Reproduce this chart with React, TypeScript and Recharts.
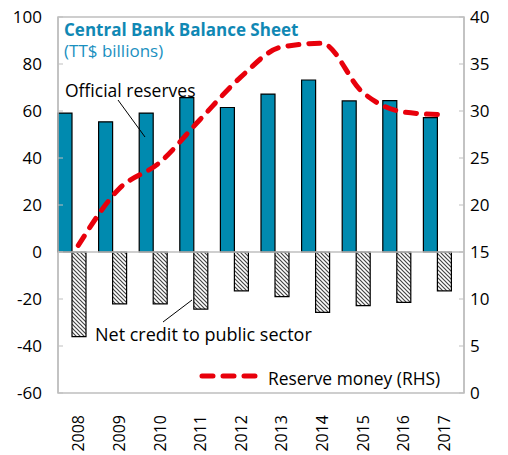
import React from "react";
import {
  ComposedChart,
  Bar,
  Line,
  XAxis,
  YAxis,
  ReferenceLine,
  ReferenceArea,
} from "recharts";

const years = ["2008", "2009", "2010", "2011", "2012", "2013", "2014", "2015", "2016", "2017"];
const officialReserves = [59.1, 55.4, 59.1, 65.7, 61.5, 67.2, 73.2, 64.3, 64.4, 57.2];
const netCredit = [-36.0, -22.1, -22.1, -24.3, -16.5, -19.0, -25.7, -22.8, -21.4, -16.5];
const reserveMoney = [15.7, 21.7, 24.5, 29.1, 33.6, 36.8, 37.2, 32.0, 29.9, 29.6];

const leftTicks = [-60, -40, -20, 0, 20, 40, 60, 80, 100];
const rightTicks = [0, 5, 10, 15, 20, 25, 30, 35, 40];

const data = years.map((year, i) => ({
  year,
  reserves: officialReserves[i],
  credit: netCredit[i],
  spacer: null,
  money: reserveMoney[i],
}));

const FONT = "'Open Sans', sans-serif";
const BLUE = "#008aaf";
const RED = "#e8000b";
const GRID = "#bfbfbf";

function YearTick(props: any) {
  const { x, y, payload } = props;
  return (
    <text
      transform={`translate(${x},${y + 22}) rotate(-90)`}
      textAnchor="end"
      dominantBaseline="central"
      fontSize={16}
      fontFamily={FONT}
      fill="#000"
    >
      {payload.value}
    </text>
  );
}

export default function App() {
  return (
    <div style={{ position: "absolute", left: 0, top: 0, width: 508, height: 455, background: "#fff" }}>
      <ComposedChart
        width={508}
        height={455}
        data={data}
        margin={{ top: 17, right: 0, bottom: 0, left: 0 }}
        barCategoryGap={0}
        barGap={0}
      >
        <defs>
          <pattern id="hatch" patternUnits="userSpaceOnUse" width={4} height={4}>
            <rect width={4} height={4} fill="#fff" />
            <path d="M-1,-1 L5,5 M-1,3 L1,5 M3,-1 L5,1" stroke="#444" strokeWidth={1.2} />
          </pattern>
        </defs>
        <ReferenceArea yAxisId="left" y1={-60} y2={100} fill="none" stroke={GRID} strokeWidth={1.5} />
        <XAxis
          dataKey="year"
          axisLine={false}
          tickLine={false}
          tickSize={0}
          tickMargin={0}
          height={62}
          interval={0}
          tick={<YearTick />}
        />
        <YAxis
          yAxisId="left"
          domain={[-60, 100]}
          ticks={leftTicks}
          width={58}
          axisLine={{ stroke: GRID, strokeWidth: 1.5 }}
          tickLine={{ stroke: GRID }}
          tickSize={-5}
          tickMargin={21}
          tick={{ fontSize: 17, fontFamily: FONT, fill: "#000" }}
        />
        <YAxis
          yAxisId="right"
          orientation="right"
          domain={[0, 40]}
          ticks={rightTicks}
          width={44}
          axisLine={{ stroke: GRID, strokeWidth: 1.5 }}
          tickLine={{ stroke: GRID }}
          tickSize={-5}
          tickMargin={11}
          tick={{ fontSize: 17, fontFamily: FONT, fill: "#000" }}
        />
        <ReferenceLine yAxisId="left" y={0} stroke={GRID} strokeWidth={1.5} />
        <Bar yAxisId="left" dataKey="reserves" fill={BLUE} stroke="#000" strokeWidth={1.2} isAnimationActive={false} />
        <Bar yAxisId="left" dataKey="credit" fill="url(#hatch)" stroke="#000" strokeWidth={1.2} isAnimationActive={false} />
        <Bar yAxisId="left" dataKey="spacer" fill="none" isAnimationActive={false} />
        <Line
          yAxisId="right"
          dataKey="money"
          type="monotone"
          stroke={RED}
          strokeWidth={5}
          strokeDasharray="11 10"
          strokeLinecap="round"
          dot={false}
          activeDot={false}
          isAnimationActive={false}
        />
      </ComposedChart>
      <svg
        width={508}
        height={455}
        style={{ position: "absolute", left: 0, top: 0, pointerEvents: "none" }}
        fontFamily={FONT}
      >
        <text x={64} y={36} fontSize={17} fontWeight={700} fill="#1088b4">
          Central Bank Balance Sheet
        </text>
        <text x={64} y={57} fontSize={17} fill="#1a90bf">
          (TT$ billions)
        </text>
        <text x={65} y={97} fontSize={17.5} fill="#000">
          Official reserves
        </text>
        <line x1={118} y1={100} x2={145} y2={137} stroke="#000" strokeWidth={1} />
        <text x={95} y={341} fontSize={18} fill="#000">
          Net credit to public sector
        </text>
        <line x1={163} y1={322} x2={192} y2={300} stroke="#000" strokeWidth={1} />
        <line x1={202} y1={376} x2={256} y2={376} stroke={RED} strokeWidth={5} strokeDasharray="11 10" strokeLinecap="round" />
        <text x={268} y={385} fontSize={17.4} fill="#000">
          Reserve money (RHS)
        </text>
      </svg>
    </div>
  );
}
